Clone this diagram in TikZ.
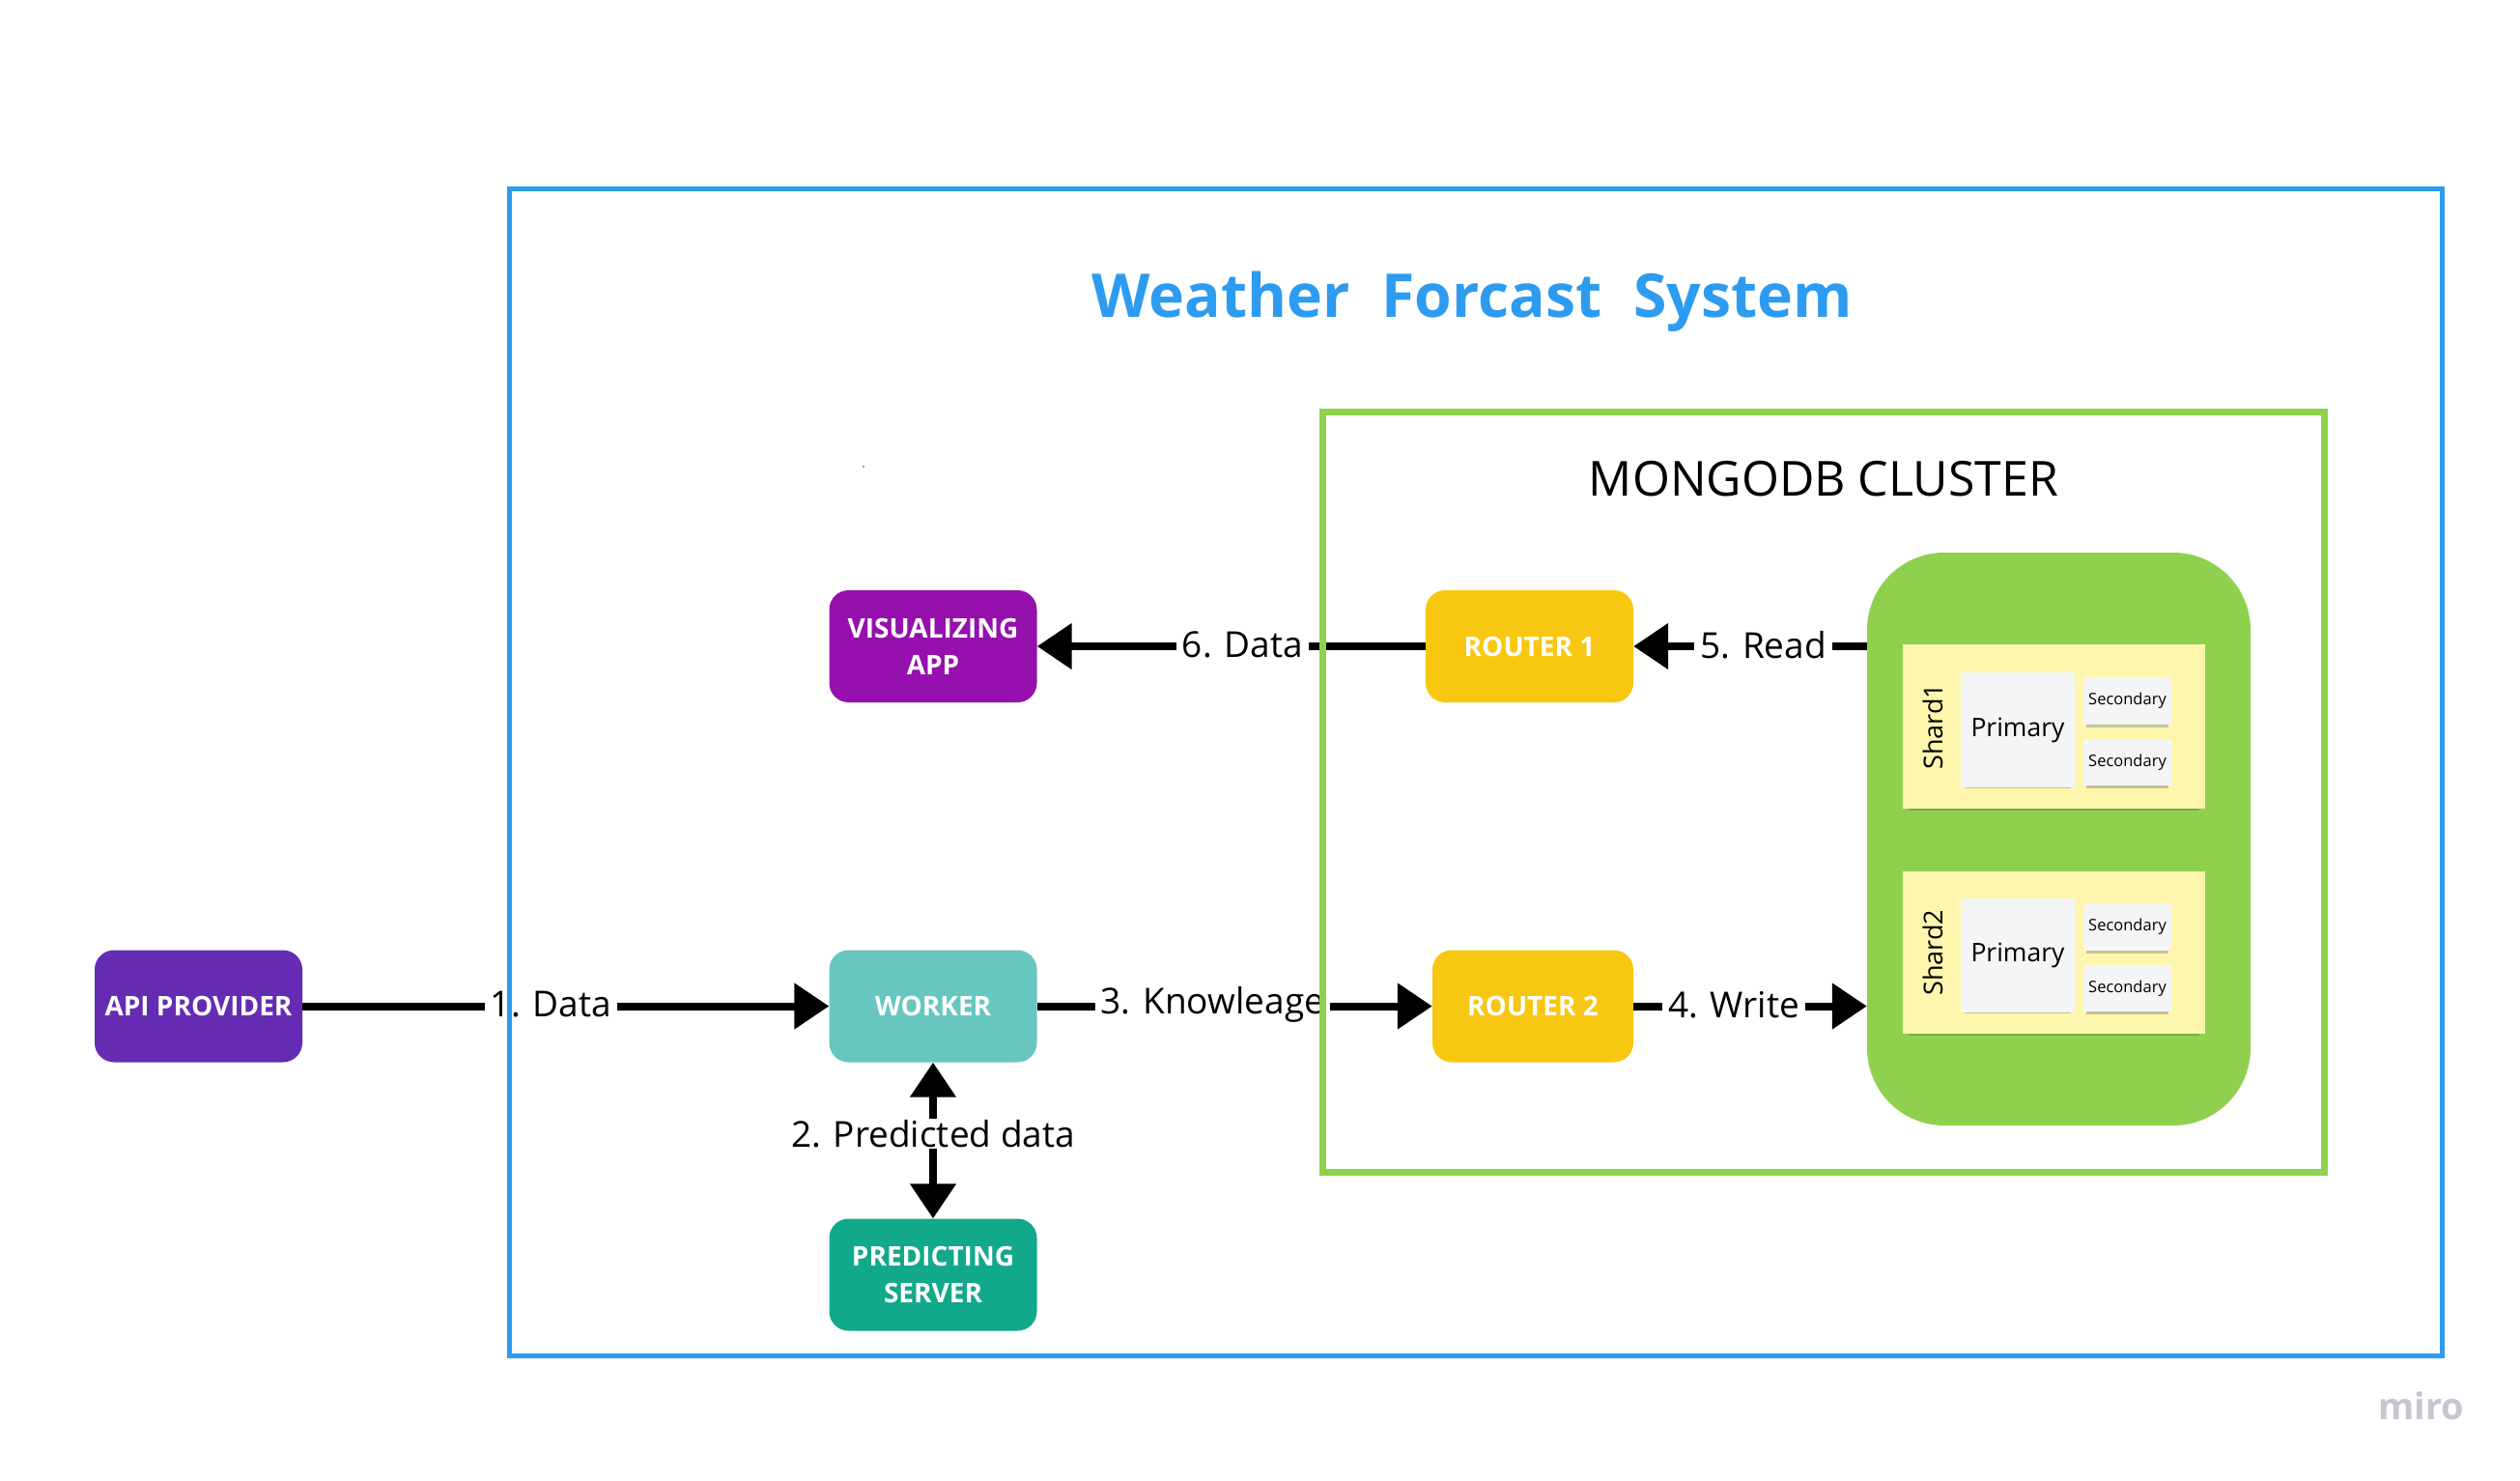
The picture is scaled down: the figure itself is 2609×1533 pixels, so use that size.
\documentclass[tikz,border=0pt]{standalone}
\usepackage{fontspec}
\setmainfont{Open Sans}
\usetikzlibrary{arrows.meta,shadows}
\definecolor{frameblue}{HTML}{2D9BF0}
\definecolor{mgreen}{HTML}{8FD14F}
\definecolor{vispurple}{HTML}{9510AC}
\definecolor{apipurple}{HTML}{652CB3}
\definecolor{workerteal}{HTML}{67C6C0}
\definecolor{predgreen}{HTML}{12A88A}
\definecolor{routeryellow}{HTML}{F8C711}
\definecolor{stickyyellow}{HTML}{FFF6AE}
\definecolor{notegray}{HTML}{F4F5F7}
\definecolor{mirogray}{HTML}{C6C6D0}
\tikzset{
  box/.style={rectangle, rounded corners=20pt, minimum width=215pt, minimum height=116pt,
    text=white, font=\fontsize{28}{38}\selectfont\bfseries, align=center, inner sep=0pt},
  conn/.style={line width=8pt, -{Triangle[length=36pt,width=46pt]}},
  lbl/.style={fill=white, font=\fontsize{37}{44}\selectfont, inner xsep=6pt, inner ysep=3pt, text=black, yshift=1.5pt},
  stickynote/.style={rectangle, fill=stickyyellow, inner sep=0pt,
    drop shadow={shadow xshift=0pt, shadow yshift=-6pt, shadow scale=0.96, opacity=0.3, fill=black!70}},
  whitenote/.style={rectangle, fill=notegray, inner sep=0pt,
    drop shadow={shadow xshift=0pt, shadow yshift=-5pt, shadow scale=0.94, opacity=0.3, fill=black!70}},
  framebox/.style={rectangle, inner sep=0pt, fill=none},
}
\begin{document}
\begin{tikzpicture}[x=1pt,y=-1pt]
\useasboundingbox (0,0) rectangle (2609,1533);
\fill[white] (0,0) rectangle (2609,1533);

% title
\node[font=\fontsize{62.5}{70}\selectfont\bfseries, text=frameblue, anchor=base] (title) at (1524,328) {Weather~~Forcast~~System};
\node[font=\fontsize{50}{60}\selectfont, anchor=base] (mtitle) at (1888,513) {MONGODB CLUSTER};

% cluster
\node[fill=mgreen, rounded corners=80pt, minimum width=397pt, minimum height=593pt, inner sep=0pt] (cluster) at (2131.5,868.5) {};
\node[stickynote, minimum width=313pt, minimum height=170pt] (shard1) at (2126.5,752) {};
\node[stickynote, minimum width=313pt, minimum height=168pt] (shard2) at (2126.5,986) {};
\node[rotate=90, font=\fontsize{27}{30}\selectfont] (s1lbl) at (2001,752) {Shard1};
\node[rotate=90, font=\fontsize{27}{30}\selectfont] (s2lbl) at (2001,986) {Shard2};
\node[whitenote, minimum width=118pt, minimum height=119pt, font=\fontsize{26.5}{30}\selectfont] (p1) at (2089,755.5) {Primary};
\node[whitenote, minimum width=118pt, minimum height=118pt, font=\fontsize{26.5}{30}\selectfont] (p2) at (2089,989) {Primary};
\node[whitenote, minimum width=91pt, minimum height=49pt, font=\fontsize{16.5}{20}\selectfont] (s1a) at (2202.5,725.5) {Secondary};
\node[whitenote, minimum width=91pt, minimum height=48pt, font=\fontsize{16.5}{20}\selectfont] (s1b) at (2202.5,789) {Secondary};
\node[whitenote, minimum width=91pt, minimum height=49pt, font=\fontsize{16.5}{20}\selectfont] (s2a) at (2202.5,959.5) {Secondary};
\node[whitenote, minimum width=91pt, minimum height=48pt, font=\fontsize{16.5}{20}\selectfont] (s2b) at (2202.5,1023) {Secondary};

% boxes
\node[box, fill=apipurple] (api) at (205.5,1041.5) {API PROVIDER};
\node[box, fill=workerteal] (worker) at (966,1041.5) {WORKER};
\node[box, fill=vispurple] (vis) at (966,669) {VISUALIZING\\APP};
\node[box, fill=predgreen] (pred) at (966,1319.5) {PREDICTING\\SERVER};
\node[box, fill=routeryellow] (r1) at (1583.5,669) {ROUTER 1};
\node[box, fill=routeryellow, minimum width=208pt] (r2) at (1587,1041.5) {ROUTER 2};

% connectors
\draw[conn] (api.east) -- node[lbl,pos=0.472]{1. Data} (worker.west);
\draw[conn] (worker.east) -- node[lbl,pos=0.444]{3. Knowleage} (r2.west);
\draw[conn] (r2.east) -- node[lbl,pos=0.43]{4. Write} (r2.east -| cluster.west);
\draw[conn] (cluster.west |- r1.east) -- node[lbl,pos=0.444]{5. Read} (r1.east);
\draw[conn] (r1.west) -- node[lbl,pos=0.471]{6. Data} (vis.east);
\draw[line width=8pt, {Triangle[length=36pt,width=46pt]}-{Triangle[length=36pt,width=46pt]}] (worker.south) -- node[lbl,pos=0.466,inner ysep=1pt]{2. Predicted data} (pred.north);

% frames
\node[framebox, draw=frameblue, line width=5pt, minimum width=2001pt, minimum height=1207pt] (outer) at (1527.5,799.5) {};
\node[framebox, draw=mgreen, line width=7pt, minimum width=1037pt, minimum height=787pt] (mframe) at (1887.5,819.5) {};

% stray dot and logo
\fill[gray] (894,483) circle (1.2pt);
\node[text=mirogray, font=\fontsize{38}{40}\selectfont\bfseries] (miro) at (2507,1455) {miro};
\end{tikzpicture}
\end{document}
